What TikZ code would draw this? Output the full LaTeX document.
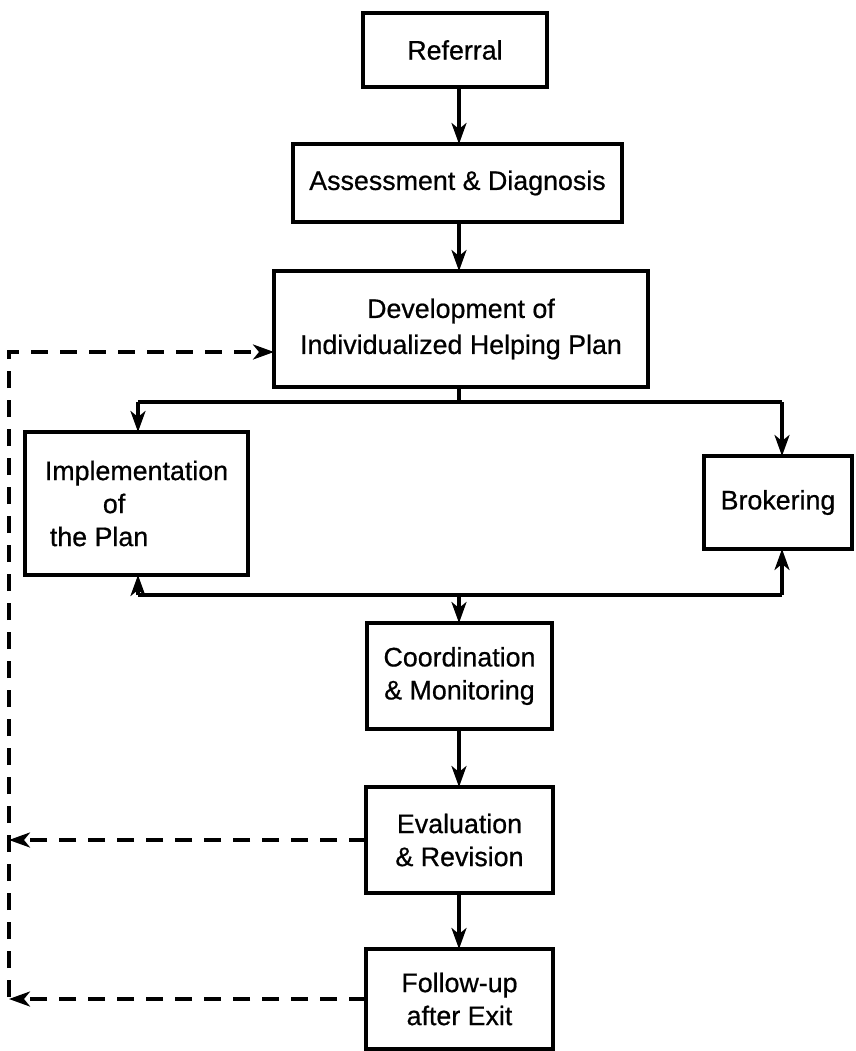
\documentclass[tikz,border=0pt]{standalone}
\usepackage{fontspec}
\setmainfont{Liberation Sans}
\newfontfamily\diagfont[FakeBold=0.6]{Liberation Sans}
\usetikzlibrary{arrows.meta,calc}
\begin{document}
\begin{tikzpicture}[x=1pt,y=-1pt,
  box/.style={draw,line width=3.2pt,inner sep=0pt,outer sep=0pt,align=center,
    font=\diagfont\fontsize{26.8}{33}\selectfont},
  arr/.style={-{Stealth[length=21pt,width=15pt,inset=6pt]}},
  conn/.style={line width=3.3pt},
  dsh/.style={line width=3.3pt,dash pattern=on 17pt off 12pt}]
\useasboundingbox (0,0) rectangle (855,1051);
\fill[white] (0,0) rectangle (855,1051);
\node[box,minimum width=184pt,minimum height=74pt] (ref) at (455,50) {Referral};
\node[box,minimum width=329pt,minimum height=78pt] (ass) at (457.5,183) {Assessment \& Diagnosis};
\node[box,minimum width=374pt,minimum height=116pt,font=\diagfont\fontsize{26.8}{36}\selectfont] (dev) at (461,329) {Development of\\Individualized Helping Plan};
\node[box,minimum width=223pt,minimum height=143pt,align=left] (imp) at (136.5,503.5) {Implementation\\\hspace*{58pt}of\\\hspace*{5pt}the Plan};
\node[box,minimum width=148pt,minimum height=93pt] (bro) at (778,502.5) {Brokering};
\node[box,minimum width=185pt,minimum height=106pt] (coo) at (459.5,676) {Coordination\\\& Monitoring};
\node[box,minimum width=187pt,minimum height=106pt] (eva) at (459.5,840) {Evaluation\\\& Revision};
\node[box,minimum width=187pt,minimum height=100pt] (fol) at (459.5,999) {Follow-up\\after Exit};
\coordinate (spine) at (459,0);
\coordinate (tl) at (138,402);
\coordinate (tr) at (782,402);
\coordinate (bl) at (138,595);
\coordinate (br) at (782,595);
\coordinate (dtop) at (9,352);
\coordinate (dbot) at (9,997);
\draw[conn,arr] (spine |- ref.south) -- (spine |- ass.north);
\draw[conn,arr] (spine |- ass.south) -- (spine |- dev.north);
\draw[conn] (spine |- dev.south) -- (spine |- tl);
\draw[conn] (tl) -- (tr);
\draw[conn,arr] (tl) -- (tl |- imp.north);
\draw[conn,arr] (tr) -- (tr |- bro.north);
\draw[conn] (bl) -- (br);
\draw[conn,arr] (bl) -- (bl |- imp.south);
\draw[conn,arr] (br) -- (br |- bro.south);
\draw[conn,arr] (spine |- bl) -- (spine |- coo.north);
\draw[conn,arr] (spine |- coo.south) -- (spine |- eva.north);
\draw[conn,arr] (spine |- eva.south) -- (spine |- fol.north);
\draw[dsh,arr] (dbot) -- (dtop) -- (dev.west |- dtop);
\draw[dsh,arr] (eva.west) -- (dtop |- eva.west);
\draw[dsh,arr] (fol.west) -- (dtop |- fol.west);
\end{tikzpicture}
\end{document}
